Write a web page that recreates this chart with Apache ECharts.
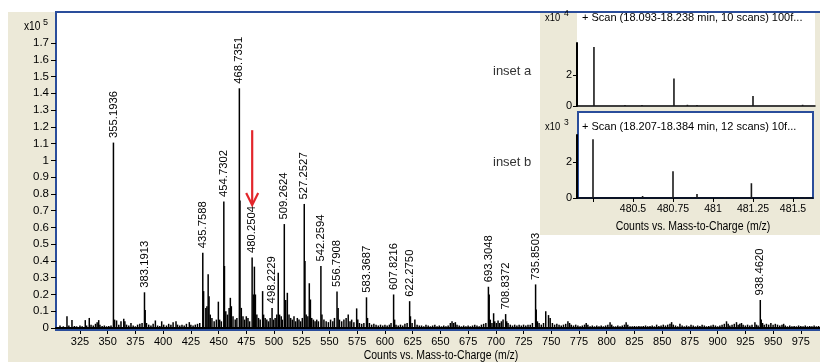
<!DOCTYPE html>
<html>
<head>
<meta charset="utf-8">
<script src="https://cdn.jsdelivr.net/npm/echarts@6/dist/echarts.min.js"></script>
<style>html,body{margin:0;padding:0;background:#fff;}#c{width:820px;height:362px;}</style>
</head>
<body>
<div id="c"></div>
<script>
// ---------- data ----------
const xTickLabels = [325,350,375,400,425,450,475,500,525,550,575,600,625,650,675,700,725,750,775,800,825,850,875,900,925,950,975];
const yTickLabels = [0,0.1,0.2,0.3,0.4,0.5,0.6,0.7,0.8,0.9,1,1.1,1.2,1.3,1.4,1.5,1.6,1.7];

const peakLabels = ['355.1936','383.1913','435.7588','454.7302','468.7351','480.2504','498.2229','509.2624','527.2527','542.2594','556.7908','583.3687','607.8216','622.2750','693.3048','708.8372','735.8503','938.4620'];
const peakMz = [355.1936,383.1913,435.7588,454.7302,468.7351,480.2504,498.2229,509.2624,527.2527,542.2594,556.7908,583.3687,607.8216,622.2750,693.3048,708.8372,735.8503,938.4620];
const peakIntensity = [1.106,0.213,0.449,0.754,1.43,0.42,0.12,0.62,0.74,0.37,0.217,0.183,0.20,0.16,0.246,0.083,0.26,0.167];

const minorPeaksLow = [[307,0.015],[310,0.01],[313.3,0.07],[315,0.015],[317.8,0.047],[320,0.012],[322,0.01],[325,0.015],[327,0.01],[329.8,0.047],[331,0.015],[333.4,0.06],[335,0.02],[337,0.015],[339,0.025],[340.5,0.035],[341.9,0.047],[343,0.02],[345,0.012],[347,0.015],[349,0.01],[351,0.012],[353,0.015],[356.2,0.05],[358,0.045],[360,0.02],[362,0.04],[364.5,0.055],[365.5,0.04],[367,0.02],[369,0.015],[371,0.03],[373,0.015],[375,0.01],[377,0.02],[379,0.025],[381,0.03],[383.8,0.107],[385,0.03],[387,0.02],[389,0.015],[391,0.025],[393,0.045],[395,0.015],[397,0.012],[398.7,0.04],[400.5,0.02],[403,0.015],[405,0.025],[407,0.02],[409,0.035],[411.6,0.04],[413,0.02],[415,0.015],[417,0.02],[419,0.015],[421,0.025],[423.6,0.035],[425,0.02],[427,0.015],[429,0.02],[431,0.025],[433,0.03]];
const minorPeaksMid = [[436.5,0.22],[438.5,0.12],[439.5,0.13],[440.6,0.32],[441.4,0.19],[442.5,0.08],[444,0.06],[446,0.04],[448,0.05],[449.8,0.157],[451,0.05],[452.5,0.04],[455.3,0.37],[456.5,0.1],[458,0.08],[459.5,0.12],[460.6,0.18],[461.5,0.13],[463,0.07],[465,0.05],[466.5,0.06],[469.3,0.76],[470.5,0.12],[472,0.07],[473.5,0.05],[475,0.07],[476.5,0.06],[478,0.04],[481.4,0.2],[482.3,0.366],[483.2,0.2],[484.5,0.08],[486,0.06],[487.5,0.05],[489.7,0.22],[490.6,0.08],[492,0.06],[493.5,0.05],[495,0.04],[496.5,0.06],[499.5,0.05],[501,0.06],[502.5,0.08],[503.8,0.33],[505,0.08],[506.5,0.07],[507.5,0.05],[510.5,0.167],[512,0.21],[513.5,0.08],[515,0.06],[516.5,0.05],[518,0.07],[519.5,0.04],[521,0.06],[522.5,0.05],[524,0.04],[525.5,0.06],[527.9,0.40],[529,0.08],[530.5,0.07],[531.8,0.267],[532.8,0.17],[534,0.06],[535.5,0.05],[537,0.04],[538.5,0.05],[540,0.04],[543.2,0.08],[545,0.05],[547,0.04],[549,0.035],[551,0.05],[553,0.04],[554.5,0.06],[557.8,0.12],[559,0.05]];
const minorPeaksHigh = [[561,0.04],[563,0.05],[565,0.06],[566.9,0.08],[568.5,0.04],[570,0.05],[572,0.035],[574.5,0.117],[575.5,0.05],[577,0.03],[579,0.025],[581,0.03],[584.3,0.06],[586,0.03],[588,0.02],[590,0.025],[592,0.02],[594,0.015],[596,0.02],[598,0.015],[600,0.02],[602,0.015],[604,0.02],[605.5,0.03],[608.7,0.05],[610,0.02],[612,0.015],[614,0.02],[616,0.015],[618,0.025],[620,0.03],[623,0.07],[624.5,0.03],[627,0.05],[629,0.02],[631,0.015],[633,0.015],[635,0.01],[637,0.02],[639,0.015],[641,0.01],[643,0.015],[645,0.02],[647,0.01],[649,0.015],[651,0.01],[653,0.015],[655,0.01],[657,0.015],[659,0.03],[660.5,0.04],[662,0.03],[663.5,0.035],[665,0.02],[667,0.015],[669,0.01],[671,0.015],[673,0.01],[675,0.015],[677,0.01],[679,0.015],[681,0.02],[683,0.015],[685,0.01],[687,0.02],[689,0.025],[691,0.03],[694,0.2],[695,0.05],[696.5,0.03],[698,0.088],[699,0.04],[700.5,0.03],[702,0.045],[703.5,0.03],[705,0.04],[706.5,0.05],[709.8,0.04],[711,0.03],[713,0.02],[715,0.015],[717,0.02],[719,0.015],[721,0.02],[723,0.015],[725,0.02],[727,0.015],[729,0.02],[731,0.02],[733,0.03],[736.4,0.11],[737.5,0.04],[739,0.03],[741,0.02],[743,0.03],[745,0.1],[747.5,0.077],[749,0.06],[751,0.03],[753,0.02],[755,0.025],[757,0.02],[759,0.015],[761,0.02],[763,0.025],[765,0.04],[766.5,0.03],[768,0.02],[770,0.015],[772,0.02],[774,0.015],[776,0.01],[778,0.015],[780,0.02],[781.5,0.03],[783,0.02],[785,0.01],[787,0.015],[789,0.01],[791,0.015],[793,0.01],[795,0.015],[797,0.01],[799,0.015],[801,0.02],[803,0.035],[804.5,0.02],[806,0.01],[808,0.01],[810,0.015],[812,0.01],[814,0.015],[816,0.02],[817.5,0.035],[819,0.02],[821,0.01],[823,0.01],[825,0.012],[827,0.01],[829,0.012],[831,0.01],[833,0.012],[835,0.015],[837,0.01],[839,0.012],[841,0.015],[843,0.01],[845,0.02],[847,0.012],[849,0.015],[851,0.02],[853,0.015],[855,0.02],[857,0.025],[858.5,0.035],[860,0.02],[862,0.015],[864,0.01],[866,0.025],[868,0.015],[870,0.01],[872,0.015],[874,0.01],[876,0.02],[878,0.015],[880,0.01],[882,0.015],[884,0.012],[886,0.02],[888,0.015],[890,0.01],[892,0.012],[894,0.015],[896,0.02],[898,0.015],[900,0.01],[902,0.015],[904,0.02],[906,0.025],[908,0.04],[909.5,0.025],[911,0.015],[913,0.02],[915,0.025],[917,0.035],[918.5,0.02],[920,0.025],[921.5,0.03],[923,0.02],[925,0.015],[927,0.02],[929,0.015],[931,0.02],[933.6,0.035],[935,0.02],[936.5,0.015],[939.3,0.05],[940.5,0.03],[942,0.02],[944,0.025],[946,0.02],[948,0.03],[950,0.02],[952,0.025],[954,0.02],[956,0.015],[958,0.02],[959.5,0.025],[961,0.015],[963,0.01],[965,0.015],[967,0.01],[969,0.012],[971,0.01],[973,0.015],[975,0.012],[977,0.01],[979,0.015],[981,0.01],[983,0.012],[985,0.01],[987,0.015],[989,0.01],[991,0.012]];

// red arrow: m/z, start intensity, tip intensity
const arrowPoint = [480.3, 1.18, 0.734];

// inset a (x10^4)
const insetAMz = [480.256,480.45,480.556,480.756,480.84,480.9,481.25,481.56];
const insetAIntensity = [3.84,0.07,0.07,1.79,0.08,0.07,0.65,0.08];
// inset b (x10^3)
const insetBMz = [480.25,480.56,480.75,480.875,480.9,481.075,481.24,481.54,481.575];
const insetBIntensity = [3.26,0.11,1.48,0.05,0.22,0.05,0.82,0.05,0.05];
const insetXTicks = [480.25,480.5,480.75,481,481.25,481.5];
const insetXLabels = [480.5,480.75,481,481.25,481.5];
const insetYTicks = [0,2];

const insetATitle = '+ Scan (18.093-18.238 min, 10 scans) 100f...';
const insetBTitle = '+ Scan (18.207-18.384 min, 12 scans) 10f...';
const xAxisTitle = 'Counts vs. Mass-to-Charge (m/z)';

// ---------- chart ----------
const SANS = '"Liberation Sans",Arial,sans-serif';
const BLUE = '#2a4d9b';
const BEIGE = '#ECE9D8';

const chart = echarts.init(document.getElementById('c'), null, {renderer: 'canvas'});

const mainSticks = [];
peakMz.forEach((m, i) => mainSticks.push([m, peakIntensity[i]]));
minorPeaksLow.concat(minorPeaksMid, minorPeaksHigh).forEach(p => mainSticks.push(p));

function stickRender(width, color) {
  return function (params, api) {
    const p0 = api.coord([api.value(0), 0]);
    const p1 = api.coord([api.value(0), api.value(1)]);
    return {type: 'line', shape: {x1: p0[0], y1: p0[1], x2: p1[0], y2: p1[1]},
            style: {stroke: color, lineWidth: width}};
  };
}

function makeInsetAxes(gi, withLabels) {
  return {
    x: {
      type: 'value', gridIndex: gi, min: 480.15, max: gi === 1 ? 481.6375 : 481.625, z: 8,
      axisLine: {lineStyle: {color: '#000', width: 1.5}},
      axisTick: {show: withLabels, customValues: insetXTicks, length: 4, lineStyle: {color: '#000'}},
      axisLabel: {show: withLabels, customValues: insetXLabels, margin: 6, fontSize: 10.5, fontFamily: SANS, color: '#000'},
      splitLine: {show: false}
    },
    y: {
      type: 'value', gridIndex: gi, min: 0, max: gi === 1 ? 4.1 : 3.5, z: 8,
      axisLine: {lineStyle: {color: '#000', width: 2}},
      axisTick: {customValues: insetYTicks, length: 4, lineStyle: {color: '#000'}},
      axisLabel: {customValues: insetYTicks, margin: 5, fontSize: 11, fontFamily: SANS, color: '#000'},
      splitLine: {show: false}
    }
  };
}
const iaA = makeInsetAxes(1, false);
const iaB = makeInsetAxes(2, true);

function txt(x, y, text, size, extra) {
  return Object.assign({type: 'text', z: 20, x: x, y: y,
    style: {text: text, fontSize: size, fontFamily: SANS, fill: '#000', verticalAlign: 'middle'}}, extra || {});
}

const option = {
  animation: false,
  backgroundColor: '#fff',
  grid: [
    {left: 56, right: 0, top: 12, bottom: 34, outerBoundsMode: 'none', containLabel: false},
    {left: 577, right: 5, top: 43, bottom: 256, outerBoundsMode: 'none', containLabel: false},
    {left: 577, right: 7, top: 135, bottom: 164, outerBoundsMode: 'none', containLabel: false}
  ],
  xAxis: [
    {
      type: 'value', gridIndex: 0, min: 303.4, max: 992.3,
      axisLine: {onZero: false, lineStyle: {color: '#000', width: 2}},
      axisTick: {customValues: xTickLabels, length: 6, lineStyle: {color: '#000'}},
      axisLabel: {customValues: xTickLabels, margin: 8, fontSize: 11, fontFamily: SANS, color: '#000'},
      splitLine: {show: false}
    },
    iaA.x, iaB.x
  ],
  yAxis: [
    {
      type: 'value', gridIndex: 0, min: 0, max: 1.885,
      axisLine: {lineStyle: {color: BLUE, width: 2}},
      axisTick: {customValues: yTickLabels, length: 5, lineStyle: {color: '#000'}},
      axisLabel: {customValues: yTickLabels, margin: 7, fontSize: 11.5, fontFamily: SANS, color: '#000',
                  formatter: v => String(+(+v).toFixed(1))},
      splitLine: {show: false}
    },
    iaA.y, iaB.y
  ],
  graphic: [
    // backgrounds
    {type: 'rect', z: -10, shape: {x: 8, y: 12, width: 48, height: 350}, style: {fill: BEIGE}},
    {type: 'rect', z: -10, shape: {x: 8, y: 330, width: 812, height: 32}, style: {fill: BEIGE}},
    {type: 'rect', z: 5, shape: {x: 540, y: 13, width: 280, height: 222}, style: {fill: BEIGE}},
    {type: 'rect', z: 5, shape: {x: 577, y: 13, width: 238, height: 94}, style: {fill: '#fff'}},
    {type: 'rect', z: 5, shape: {x: 578, y: 112, width: 235, height: 86}, style: {fill: '#fff', stroke: BLUE, lineWidth: 2}},
    // frame lines
    {type: 'rect', z: 20, shape: {x: 55, y: 11, width: 765, height: 2}, style: {fill: BLUE}},
    {type: 'rect', z: 20, shape: {x: 55, y: 329, width: 765, height: 2}, style: {fill: BLUE}},
    // exponent labels
    txt(24, 27, 'x10', 12, {scaleX: 0.85}),
    txt(43, 23, '5', 9),
    txt(545, 18, 'x10', 11, {scaleX: 0.85}),
    txt(564, 14, '4', 8.5),
    txt(545, 127, 'x10', 11, {scaleX: 0.85}),
    txt(564, 123, '3', 8.5),
    // inset titles
    txt(582, 18, insetATitle, 11),
    txt(582, 127, insetBTitle, 11),
    // axis titles
    {type: 'text', z: 20, x: 441, y: 356, scaleX: 0.84,
     style: {text: xAxisTitle, fontSize: 12.5, fontFamily: SANS, fill: '#000', align: 'center', verticalAlign: 'middle'}},
    {type: 'text', z: 20, x: 693, y: 227, scaleX: 0.84,
     style: {text: xAxisTitle, fontSize: 12.5, fontFamily: SANS, fill: '#000', align: 'center', verticalAlign: 'middle'}},
    // inset captions
    txt(493, 71, 'inset a', 13, {style: {text: 'inset a', fontSize: 13, fontFamily: SANS, fill: '#333', verticalAlign: 'middle'}}),
    txt(493, 162, 'inset b', 13, {style: {text: 'inset b', fontSize: 13, fontFamily: SANS, fill: '#333', verticalAlign: 'middle'}})
  ],
  series: [
    {type: 'custom', xAxisIndex: 0, yAxisIndex: 0, z: 2, renderItem: stickRender(1.5, '#000'), data: mainSticks},
    {
      type: 'custom', xAxisIndex: 0, yAxisIndex: 0, z: 3,
      data: peakMz.map((m, i) => [m, peakIntensity[i]]),
      renderItem: function (params, api) {
        const p = api.coord([api.value(0), api.value(1)]);
        return {type: 'text', x: p[0], y: p[1] - 4.5, rotation: Math.PI / 2,
                style: {text: peakLabels[params.dataIndex], fontSize: 11.3, fontFamily: SANS, fill: '#000',
                        align: 'left', verticalAlign: 'middle'}};
      }
    },
    {
      type: 'custom', xAxisIndex: 0, yAxisIndex: 0, z: 4,
      data: [arrowPoint],
      renderItem: function (params, api) {
        const a = api.coord([api.value(0), api.value(1)]);
        const b = api.coord([api.value(0), api.value(2)]);
        return {type: 'group', children: [
          {type: 'line', shape: {x1: a[0], y1: a[1], x2: b[0], y2: b[1] - 1}, style: {stroke: '#e3262b', lineWidth: 2.2}},
          {type: 'polyline', shape: {points: [[b[0] - 6, b[1] - 12], [b[0], b[1]], [b[0] + 6, b[1] - 12]]},
           style: {stroke: '#e3262b', lineWidth: 2.2, fill: null}}
        ]};
      }
    },
    {type: 'custom', xAxisIndex: 1, yAxisIndex: 1, z: 9, renderItem: stickRender(1.6, '#1a1a1a'),
     data: insetAMz.map((m, i) => [m, insetAIntensity[i]])},
    {type: 'custom', xAxisIndex: 2, yAxisIndex: 2, z: 9, renderItem: stickRender(1.6, '#1a1a1a'),
     data: insetBMz.map((m, i) => [m, insetBIntensity[i]])}
  ]
};
chart.setOption(option);
</script>
</body>
</html>
